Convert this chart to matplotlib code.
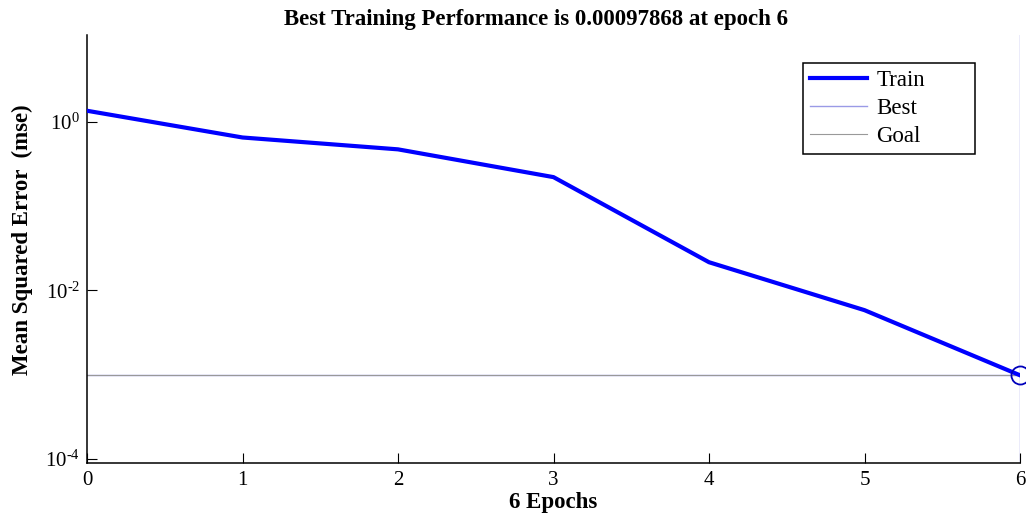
import matplotlib
matplotlib.use("Agg")
import matplotlib.pyplot as plt
import numpy as np

# 训练误差数据
epochs = [0, 1, 2, 3, 4, 5, 6]
train_mse = [1.35, 0.65, 0.47, 0.22, 0.0215, 0.0058, 0.00097868]
best_epoch = 6
best_mse = 0.00097868
goal_mse = 0.00097868
ytick_vals = [1e-4, 1e-2, 1e0]
ytick_text = ["$10^{\u20104}$", "$10^{\u20102}$", "$10^{0}$"]

plt.rcParams["font.family"] = ["Liberation Serif", "DejaVu Serif"]
plt.rcParams["mathtext.fontset"] = "custom"
plt.rcParams["mathtext.rm"] = "Liberation Serif"
plt.rcParams["mathtext.it"] = "Liberation Serif:italic"
plt.rcParams["mathtext.bf"] = "Liberation Serif:bold"

W, H = 1026, 514
fig = plt.figure(figsize=(W / 100, H / 100), dpi=100, facecolor="white")
ax = fig.add_axes([87 / W, 1 - 463 / H, (1020 - 87) / W, (463 - 35) / H])

ax.plot(epochs, train_mse, color="#0000ff", linewidth=3, label="Train", zorder=3)
ax.axhline(best_mse, color="#9a9ae6", linewidth=1, label="Best", zorder=2)
ax.axvline(best_epoch, color="#9a9ae6", linewidth=1, zorder=2)
ax.axhline(goal_mse, color="#999999", linewidth=0.8, label="Goal", zorder=2)
ax.plot([best_epoch], [best_mse], "o", markersize=13, markerfacecolor="none",
        markeredgecolor="#0000bb", markeredgewidth=1.3, zorder=4, clip_on=False)

ax.set_yscale("log")
ax.set_xlim(0, 6)
ax.set_ylim(8.9e-5, 10.7)
ax.set_xticks(epochs)
ax.set_yticks(ytick_vals)
ax.set_yticklabels(ytick_text)
ax.minorticks_off()
ax.tick_params(direction="in", length=7.5, width=0.8, labelsize=15)
ax.tick_params(axis="x", pad=6)
ax.tick_params(axis="y", pad=5)

for side in ["top", "right"]:
    ax.spines[side].set_visible(False)
for side in ["left", "bottom"]:
    ax.spines[side].set_linewidth(1.1)

ax.set_title("Best Training Performance is 0.00097868 at epoch 6",
             fontsize=16.5, fontweight="bold", x=0.481, pad=7)
ax.set_xlabel("6 Epochs", fontsize=16.5, fontweight="bold", labelpad=1)
ax.set_ylabel("Mean Squared Error  (mse)", fontsize=16.5, fontweight="bold")
ax.yaxis.set_label_coords(-0.058, 0.521)

leg = ax.legend(loc="upper left",
                bbox_to_anchor=(803 / W, 1 - 152 / H, 172 / W, 89 / H),
                bbox_transform=fig.transFigure, mode="expand", fontsize=16.5,
                fancybox=False, edgecolor="black", framealpha=1,
                handlelength=2.5, handletextpad=0.4, borderpad=0.3,
                labelspacing=0.3, borderaxespad=0)
leg.get_frame().set_linewidth(1.1)

fig.savefig("out.png", dpi=100, facecolor="white")
plt.close(fig)
